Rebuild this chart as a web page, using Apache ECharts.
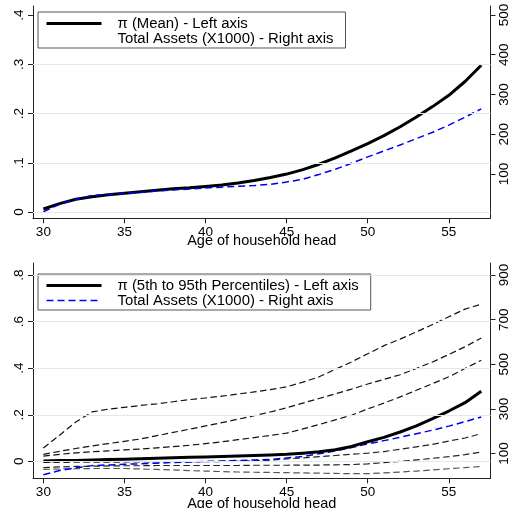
<!DOCTYPE html>
<html><head><meta charset="utf-8">
<script src="https://cdn.jsdelivr.net/npm/echarts@6/dist/echarts.min.js"></script>
<style>html,body{margin:0;padding:0;background:#fff}#c{width:514px;height:508px}</style>
</head><body><div id="c"></div>
<script>
// ---------- data ----------
const ages = [30,31,32,33,34,35,36,37,38,39,40,41,42,43,44,45,46,47,48,49,50,51,52,53,54,55,56,57];
// top panel
const topPiMean = [0.006,0.017,0.026,0.031,0.035,0.038,0.041,0.044,0.047,0.049,0.052,0.055,0.059,0.064,0.070,0.077,0.086,0.097,0.110,0.124,0.139,0.155,0.173,0.193,0.214,0.237,0.265,0.298];
const topAssets = [5,24,36,46,49,52,54,57,60,62,65,67,69,71,74,80,87,99,112,127,143,158,173,189,205,223,243,264];
// bottom panel
const botPiMain = [0.001,0.003,0.004,0.006,0.008,0.009,0.011,0.013,0.015,0.017,0.019,0.021,0.023,0.025,0.027,0.030,0.035,0.041,0.050,0.064,0.084,0.103,0.126,0.152,0.183,0.216,0.252,0.301];
const botAssets = [5,24,36,46,49,52,54,57,60,62,65,67,69,71,74,80,87,99,112,127,143,158,173,189,205,223,243,264];
const botP95 = [0.057,0.112,0.169,0.212,0.224,0.232,0.240,0.247,0.256,0.265,0.272,0.280,0.289,0.298,0.308,0.320,0.340,0.363,0.395,0.427,0.462,0.497,0.525,0.556,0.588,0.621,0.654,0.675];
const botP90 = [0.030,0.043,0.055,0.066,0.076,0.086,0.096,0.110,0.124,0.138,0.152,0.166,0.181,0.196,0.212,0.230,0.250,0.270,0.290,0.310,0.332,0.352,0.372,0.399,0.427,0.459,0.492,0.530];
const botP75 = [0.022,0.030,0.036,0.041,0.045,0.049,0.053,0.058,0.063,0.069,0.076,0.084,0.093,0.102,0.111,0.121,0.139,0.158,0.178,0.198,0.225,0.250,0.277,0.305,0.334,0.363,0.399,0.434];
const botP25 = [-0.005,-0.005,-0.004,-0.004,-0.004,-0.003,-0.003,-0.003,-0.002,-0.002,-0.002,-0.001,0.000,0.002,0.005,0.010,0.015,0.020,0.025,0.030,0.035,0.042,0.052,0.062,0.073,0.087,0.100,0.119];
const botP10 = [-0.027,-0.024,-0.022,-0.021,-0.020,-0.019,-0.019,-0.018,-0.018,-0.018,-0.018,-0.018,-0.018,-0.017,-0.017,-0.017,-0.016,-0.016,-0.015,-0.014,-0.011,-0.006,0.000,0.006,0.013,0.020,0.029,0.040];
const botP5 = [-0.035,-0.033,-0.032,-0.031,-0.031,-0.031,-0.033,-0.035,-0.037,-0.040,-0.042,-0.044,-0.046,-0.047,-0.048,-0.049,-0.050,-0.051,-0.052,-0.053,-0.053,-0.050,-0.046,-0.042,-0.037,-0.032,-0.027,-0.022];
// ticks
const xTicks = [30,35,40,45,50,55];
const topLeftTicks = [0,0.1,0.2,0.3,0.4];
const topRightTicks = [100,200,300,400,500];
const topGrid = [0,0.1,0.2,0.3];
const botLeftTicks = [0,0.2,0.4,0.6,0.8];
const botRightTicks = [100,300,500,700,900];
const botGrid = [0,0.2,0.4,0.6,0.8];
// names
const xName = 'Age of household head';
const topPiName = 'π (Mean) - Left axis';
const botPiName = 'π (5th to 95th Percentiles) - Left axis';
const assetsName = 'Total Assets (X1000) - Right axis';

// ---------- chart ----------
const FONT = '"Liberation Sans", Arial, sans-serif';
const AX = '#222';
const pairs = ys => ages.map((a, i) => [a, ys[i]]);
const fmtLeft = v => (Math.abs(v) < 1e-9 ? '0' : v.toFixed(1).replace(/^0/, ''));

function xAxis(gridIndex, nameGap) {
  return {
    type: 'value', gridIndex, min: 29.36, max: 57.57,
    name: xName, nameLocation: 'middle', nameGap, nameMoveOverlap: false,
    nameTextStyle: { fontSize: 14.5, color: '#000', fontFamily: FONT },
    axisLine: { onZero: false, lineStyle: { color: AX, width: 1 } },
    axisTick: { customValues: xTicks, length: 5, lineStyle: { color: AX } },
    axisLabel: { customValues: xTicks, fontSize: 13.5, color: '#000', margin: 7, fontFamily: FONT },
    splitLine: { show: false }
  };
}
function yAxis(gridIndex, position, min, max, ticks, fmt) {
  return {
    type: 'value', gridIndex, position, min, max,
    axisLine: { show: true, onZero: false, lineStyle: { color: AX, width: 1 } },
    axisTick: { show: true, customValues: ticks, length: 5, lineStyle: { color: AX } },
    axisLabel: { customValues: ticks, rotate: 90, fontSize: 13.5, color: '#000', margin: 7, fontFamily: FONT, formatter: fmt },
    splitLine: { show: false }
  };
}
function gridSeries(xi, yi, vals) {
  return {
    type: 'line', xAxisIndex: xi, yAxisIndex: yi, data: [], silent: true, z: 1,
    markLine: { silent: true, symbol: 'none', label: { show: false },
      lineStyle: { color: '#e0eaee', width: 1, type: 'solid' },
      emphasis: { disabled: true },
      data: vals.map(v => ({ yAxis: v })) }
  };
}
function line(name, xi, yi, ys, color, width, dash) {
  return {
    type: 'line', name, xAxisIndex: xi, yAxisIndex: yi, data: pairs(ys),
    symbol: 'none', smooth: false, z: 3,
    lineStyle: { color, width, type: dash || 'solid', join: 'round' },
    itemStyle: { color },
    emphasis: { disabled: true }
  };
}
const legendBase = {
  orient: 'vertical', itemWidth: 55, itemHeight: 14, itemGap: 0,
  backgroundColor: '#fff', borderColor: '#555', borderWidth: 1,
  padding: [4, 12, 2, 7],
  textStyle: { fontSize: 14.9, color: '#000', fontFamily: FONT, padding: [0, 0, 0, 11] },
  itemStyle: { opacity: 0, borderWidth: 0 },
  lineStyle: { width: 'inherit' },
  selectedMode: false
};

const dashBlack = [6.5, 3.5];
const option = {
  animation: false,
  backgroundColor: '#fff',
  grid: [
    { left: 33, right: 23.5, top: 6, height: 212.3, outerBoundsMode: 'none' },
    { left: 33, right: 23.5, top: 263, height: 215.3, outerBoundsMode: 'none' }
  ],
  xAxis: [xAxis(0, 15), xAxis(1, 18.5)],
  yAxis: [
    yAxis(0, 'left', -0.0128, 0.4183, topLeftTicks, fmtLeft),
    yAxis(0, 'right', -11.4, 522.6, topRightTicks, v => String(v)),
    yAxis(1, 'left', -0.073, 0.852, botLeftTicks, fmtLeft),
    yAxis(1, 'right', -10.8, 953.8, botRightTicks, v => String(v))
  ],
  legend: [
    Object.assign({}, legendBase, { left: 38, top: 12, data: [topPiName, { name: assetsName, icon: 'none' }] }),
    Object.assign({}, legendBase, { left: 38, top: 274, data: [botPiName, assetsName] })
  ],
  series: [
    gridSeries(0, 0, topGrid),
    gridSeries(1, 2, botGrid),
    line(topPiName, 0, 0, topPiMean, '#000', 3),
    line(assetsName, 0, 1, topAssets, '#0000ee', 1.5, [7, 4]),
    line('p95', 1, 2, botP95, '#111', 1.2, dashBlack),
    line('p90', 1, 2, botP90, '#111', 1.2, dashBlack),
    line('p75', 1, 2, botP75, '#111', 1.2, dashBlack),
    line('p25', 1, 2, botP25, '#222', 1.2, dashBlack),
    line('p10', 1, 2, botP10, '#222', 1.2, dashBlack),
    line('p5', 1, 2, botP5, '#555', 1.2, dashBlack),
    line(assetsName, 1, 3, botAssets, '#0000ee', 1.5, [7, 4]),
    line(botPiName, 1, 2, botPiMain, '#000', 3)
  ]
};
const chart = echarts.init(document.getElementById('c'));
chart.setOption(option);
</script>
</body></html>
